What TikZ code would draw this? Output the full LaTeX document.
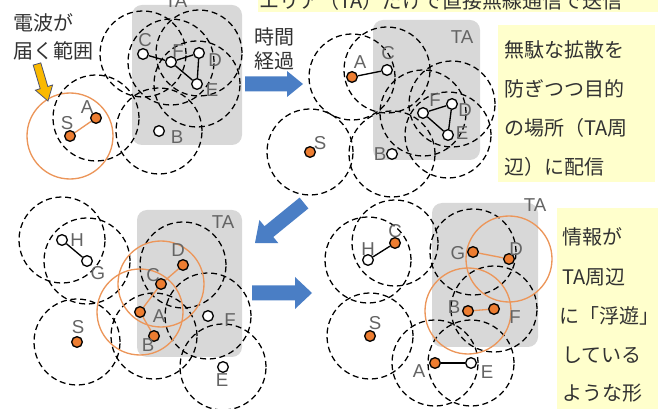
\documentclass[tikz,border=0pt]{standalone}
\usepackage{fontspec}
\setmainfont{Liberation Sans}
\newfontfamily\jp{Noto Sans CJK JP}
\definecolor{orgfill}{RGB}{237,125,49}
\definecolor{orgline}{RGB}{236,150,90}
\definecolor{tagray}{RGB}{216,216,216}
\definecolor{ylw}{RGB}{255,255,204}
\definecolor{lblgray}{RGB}{100,100,100}
\definecolor{jpcol}{RGB}{50,50,50}
\definecolor{arrowblue}{RGB}{74,126,197}
\definecolor{gold}{RGB}{250,185,0}
\definecolor{goldedge}{RGB}{80,85,110}
\pgfdeclarelayer{back}
\pgfdeclarelayer{bg}
\pgfsetlayers{back,bg,main}
\tikzset{
  nd/.style={circle, draw=black, line width=1pt, minimum size=8pt, inner sep=0pt},
  on/.style={nd, fill=orgfill},
  wn/.style={nd, fill=white},
  lbl/.style={text=lblgray, font=\fontsize{14}{15}\selectfont, inner sep=0pt},
  rng/.style={draw=black, dash pattern=on 4.5pt off 2.8pt, line width=0.95pt},
  orng/.style={draw=orgline, line width=1pt},
  bedge/.style={draw=black, line width=1pt},
  oedge/.style={draw=orgline, line width=1pt},
  jtext/.style={font=\jp\fontsize{15}{18}\selectfont, text=jpcol, inner sep=0pt},
  tabox/.style={fill=tagray, rounded corners=7.5pt},
  ybox/.style={fill=ylw},
  blk/.style={fill=arrowblue},
}
\def\R{32.25pt}
\begin{document}
\begin{tikzpicture}[x=0.75pt, y=-0.75pt]
\useasboundingbox (0,0) rectangle (664,409);
\clip (0,0) rectangle (664,409);

% ---------- backgrounds ----------
\begin{pgfonlayer}{back}
\fill[white] (0,0) rectangle (664,409);
\path[tabox] (132,5) rectangle (242,145);
\path[tabox] (373,20) rectangle (480,160);
\path[tabox] (137,210) rectangle (242,357);
\path[tabox] (432,203) rectangle (538,347);
\path[ybox] (258,-8) rectangle (658,12);
\path[ybox] (498,25) rectangle (655,182);
\path[ybox] (557,208) rectangle (658,412);
\end{pgfonlayer}

% ---------- panel 1 ----------
\node[on] (aS) at (70,136) {};
\node[on] (aA) at (96,118) {};
\node[wn] (aB) at (159,131) {};
\node[wn] (aC) at (143,54) {};
\node[wn] (aF) at (171,62) {};
\node[wn] (aD) at (199,53) {};
\node[wn] (aE) at (197,84) {};
\begin{pgfonlayer}{bg}
\draw[orng] (aS.center) circle[radius=\R];
\foreach \n in {aA,aB,aC,aF,aD,aE} \draw[rng] (\n.center) circle[radius=\R];
\end{pgfonlayer}
\draw[oedge] (aS) -- (aA);
\draw[bedge] (aC) -- (aF);
\draw[bedge] (aF) -- (aD);
\draw[bedge] (aF) -- (aE);
\draw[bedge] (aD) -- (aE);
\node[lbl] (laS) at (67,123) {S};
\node[lbl] (laA) at (87,107) {A};
\node[lbl] (laB) at (177,137) {B};
\node[lbl] (laC) at (145,40) {C};
\node[lbl] (laF) at (178,51) {F};
\node[lbl] (laD) at (215,60) {D};
\node[lbl] (laE) at (212,90) {E};
\node[lbl] (laTA) at (176,1) {TA};

% ---------- panel 2 ----------
\node[on] (bS) at (310,152) {};
\node[on] (bA) at (352,77) {};
\node[wn] (bC) at (387,70) {};
\node[wn] (bF) at (423,113) {};
\node[wn] (bD) at (452,104) {};
\node[wn] (bE) at (448,135) {};
\node[wn] (bB) at (392,154) {};
\begin{pgfonlayer}{bg}
\foreach \n in {bS,bA,bC,bF,bD,bE,bB} \draw[rng] (\n.center) circle[radius=\R];
\end{pgfonlayer}
\draw[bedge] (bA) -- (bC);
\draw[bedge] (bF) -- (bD);
\draw[bedge] (bF) -- (bE);
\draw[bedge] (bD) -- (bE);
\node[lbl] (lbS) at (320,143) {S};
\node[lbl] (lbA) at (360,62) {A};
\node[lbl] (lbC) at (388,53) {C};
\node[lbl] (lbF) at (435,100) {F};
\node[lbl] (lbD) at (465,110) {D};
\node[lbl] (lbE) at (462,133) {E};
\node[lbl] (lbB) at (380,154) {B};
\node[lbl] (lbTA) at (462,37) {TA};

% ---------- panel 3 ----------
\node[wn] (cH) at (62,240) {};
\node[wn] (cG) at (87,261) {};
\node[on] (cD) at (183,265) {};
\node[on] (cC) at (161,284) {};
\node[on] (cA) at (140,312) {};
\node[on] (cB) at (154,336) {};
\node[wn] (cF) at (208,316) {};
\node[wn] (cE) at (223,367) {};
\node[on] (cS) at (77,342) {};
\begin{pgfonlayer}{bg}
\foreach \n in {cH,cG,cD,cB,cF,cE,cS} \draw[rng] (\n.center) circle[radius=\R];
\draw[orng] (cC.center) circle[radius=\R];
\draw[orng] (cA.center) circle[radius=\R];
\end{pgfonlayer}
\draw[bedge] (cH) -- (cG);
\draw[oedge] (cD) -- (cC);
\draw[oedge] (cC) -- (cA);
\draw[oedge] (cA) -- (cB);
\node[lbl] (lcH) at (77,240) {H};
\node[lbl] (lcG) at (98,273) {G};
\node[lbl] (lcD) at (178,250) {D};
\node[lbl] (lcC) at (153,275) {C};
\node[lbl] (lcA) at (159,316) {A};
\node[lbl] (lcB) at (148,345) {B};
\node[lbl] (lcF) at (230,320) {F};
\node[lbl] (lcE) at (222,380) {E};
\node[lbl] (lcS) at (78,327) {S};
\node[lbl] (lcTA) at (223,222) {TA};

% ---------- panel 4 ----------
\node[wn] (dH) at (368,260) {};
\node[on] (dC) at (395,243) {};
\node[on] (dG) at (473,252) {};
\node[on] (dD) at (509,259) {};
\node[on] (dB) at (468,311) {};
\node[on] (dF) at (494,309) {};
\node[on] (dA) at (435,363) {};
\node[wn] (dE) at (471,363) {};
\node[on] (dS) at (370,336) {};
\begin{pgfonlayer}{bg}
\foreach \n in {dH,dC,dG,dF,dS,dA,dE} \draw[rng] (\n.center) circle[radius=\R];
\draw[orng] (dD.center) circle[radius=\R];
\draw[orng] (dB.center) circle[radius=\R];
\end{pgfonlayer}
\draw[bedge] (dH) -- (dC);
\draw[oedge] (dG) -- (dD);
\draw[oedge] (dB) -- (dF);
\draw[bedge] (dA) -- (dE);
\node[lbl] (ldH) at (368,249) {H};
\node[lbl] (ldC) at (395,231) {C};
\node[lbl] (ldG) at (458,253) {G};
\node[lbl] (ldD) at (516,249) {D};
\node[lbl] (ldB) at (454,307) {B};
\node[lbl] (ldF) at (515,317) {F};
\node[lbl] (ldA) at (419,371) {A};
\node[lbl] (ldE) at (487,372) {E};
\node[lbl] (ldS) at (375,323) {S};
\node[lbl] (ldTA) at (535,205) {TA};

% ---------- texts ----------
\node[jtext, anchor=west] (t1) at (13,23) {電波が};
\node[jtext, anchor=west] (t2) at (13,51) {届く範囲};
\node[jtext] (t3) at (274,37) {時間};
\node[jtext] (t4) at (274,61) {経過};
\node[jtext] (top) at (441,0.5) {エリア（TA）だけで直接無線通信で送信};
\node[jtext, anchor=west] (y1) at (504,50) {無駄な拡散を};
\node[jtext, anchor=west] (y2) at (504,89) {防ぎつつ目的};
\node[jtext, anchor=west] (y3) at (504,128) {の場所（TA周};
\node[jtext, anchor=west] (y4) at (504,167) {辺）に配信};
\node[jtext, anchor=west] (z1) at (562,237) {情報が};
\node[jtext, anchor=west] (z2) at (562,277) {TA周辺};
\node[jtext, anchor=west] (z3) at (559,316) {に「浮遊」};
\node[jtext, anchor=west] (z4) at (562,355) {している};
\node[jtext, anchor=west] (z5) at (562,393) {ような形};

% ---------- arrows ----------
\path[fill=gold, draw=goldedge, line width=0.6pt]
  (40.8,62.9) -- (33.2,65.1) -- (40.2,88.7) -- (35.4,90.2) -- (48,101)
  -- (52.6,85.0) -- (47.8,86.5) -- cycle;
\path[blk] (245,76.5) -- (287,76.5) -- (287,71) -- (303,84) -- (287,97) -- (287,91.5) -- (245,91.5) -- cycle;
\path[blk] (252,285.5) -- (295,285.5) -- (295,277) -- (312,293) -- (295,309) -- (295,300.5) -- (252,300.5) -- cycle;
\path[blk] (308.4,208.4) -- (299.6,197.6) -- (264.5,226.2) -- (259.4,220.0) -- (255,243)
  -- (278.4,243.2) -- (273.3,237.0) -- cycle;
\end{tikzpicture}
\end{document}
